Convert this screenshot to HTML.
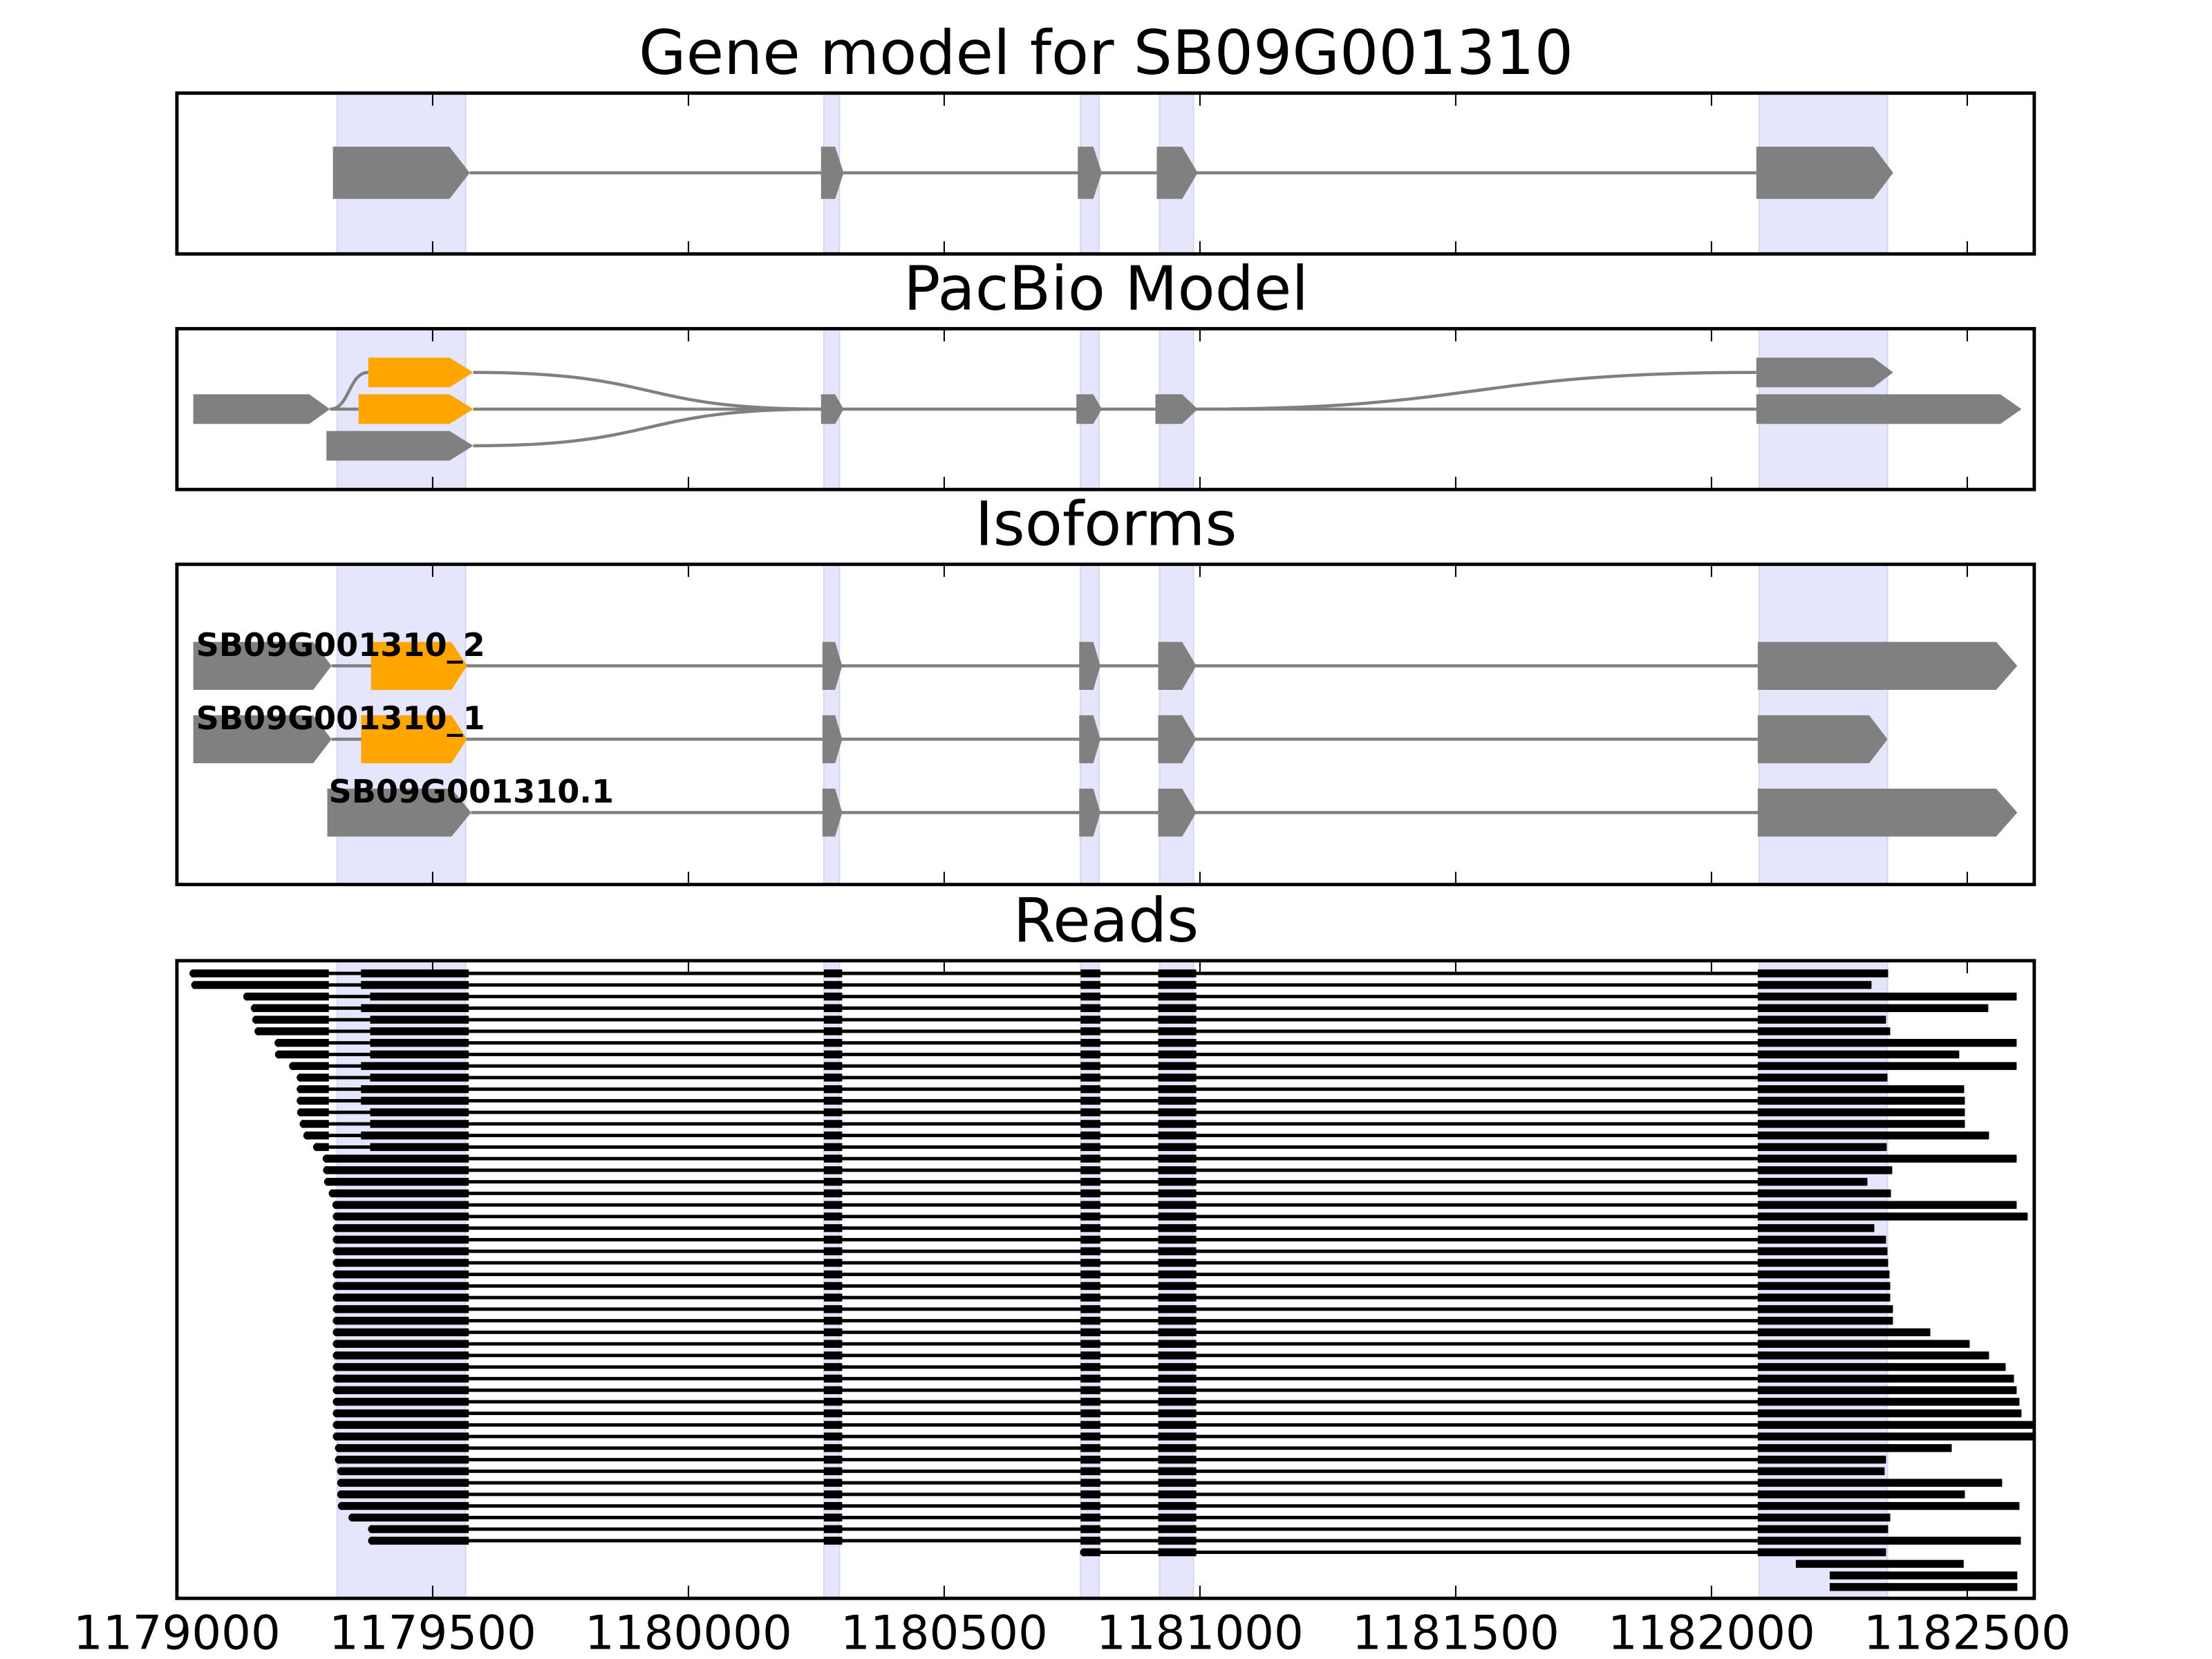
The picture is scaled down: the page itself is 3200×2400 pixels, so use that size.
<!DOCTYPE html>
<html><head><meta charset="utf-8"><style>html,body{margin:0;padding:0;background:#fff}svg{display:block}</style></head>
<body>
<svg id="s" xmlns="http://www.w3.org/2000/svg" width="3200" height="2400" viewBox="0 0 1568 1176" font-family="DejaVu Sans, Liberation Sans, sans-serif">
<defs><clipPath id="c4"><rect x="125.4" y="681" width="1316.6" height="452"/></clipPath></defs>
<rect width="1568" height="1176" fill="#fff"/>
<g id="bands"></g>
<g id="content"></g>
<g id="frames" fill="none" stroke="#000" stroke-width="2.4"></g>
<g id="ticks" stroke="#000" stroke-width="1"></g>
<g font-size="43.4" text-anchor="middle" fill="#000">
<text x="784" y="52.4">Gene model for SB09G001310</text>
<text x="784" y="219.4">PacBio Model</text>
<text x="784" y="386.4">Isoforms</text>
<text x="784" y="667.4">Reads</text>
</g>
<g id="tl" font-size="33" text-anchor="middle" fill="#000"></g>
<g font-size="22.6" font-weight="bold" fill="#000">
<text x="139" y="465">SB09G001310_2</text>
<text x="139" y="517">SB09G001310_1</text>
<text x="233" y="569">SB09G001310.1</text>
</g>
</svg>
<script>
const NS="http://www.w3.org/2000/svg";
function el(p,t,a){const e=document.createElementNS(NS,t);for(const k in a)e.setAttribute(k,a[k]);p.appendChild(e);return e;}
const bands=document.getElementById('bands'),C=document.getElementById('content'),F=document.getElementById('frames'),T=document.getElementById('ticks'),TL=document.getElementById('tl');
const panels=[[66,180],[233,347],[400,627],[681,1133]];
const L0=125.4,R0=1442;
const B=[[239,330],[584,595],[766,779],[822,846],[1247,1338]];
panels.forEach(([t,b])=>{
  B.forEach(([x0,x1])=>el(bands,'rect',{x:x0,y:t,width:x1-x0,height:b-t,fill:'#e5e5fc',stroke:'#d6d6ef','stroke-width':1}));
  el(F,'rect',{x:L0,y:t,width:R0-L0,height:b-t});
  for(let k=0;k<8;k++){const x=L0+k*181.3;el(T,'line',{x1:x,y1:t,x2:x,y2:t+9});el(T,'line',{x1:x,y1:b,x2:x,y2:b-9});}
});
for(let k=0;k<8;k++){const t=el(TL,'text',{x:L0+k*181.3,y:1169});t.textContent=String(1179000+k*500);}
function arrow(x0,x1,xt,yc,h,col){el(C,'polygon',{points:`${x0},${yc-h/2} ${x1},${yc-h/2} ${xt},${yc} ${x1},${yc+h/2} ${x0},${yc+h/2}`,fill:col});}
function line(x0,x1,y){el(C,'line',{x1:x0,y1:y,x2:x1,y2:y,stroke:'#808080','stroke-width':2.2});}
function path(d){el(C,'path',{d:d,fill:'none',stroke:'#808080','stroke-width':2.2});}
const G='#808080',O='#ffa500';
line(333,1245,122.5);
arrow(236,318.6,333,122.5,37,G);arrow(582,592,598,122.5,37,G);arrow(764,775,781,122.5,37,G);arrow(820,838,849,122.5,37,G);arrow(1245,1328,1342,122.5,37,G);
line(233.9,254.2,290);line(335.5,1245,290);
path('M233.9,290 C248,290 247,264 261.1,264');
path('M335.5,264 C470,264 450,290 582,290');
path('M335.5,316 C470,316 450,290 582,290');
path('M849,290 C1050,290 1040,264 1245,264');
arrow(137,219.2,233.9,290,21,G);arrow(261.1,318.6,335.5,264,21,O);arrow(254.2,318.6,335.5,290,21,O);arrow(231.4,318.6,335.5,316,21,G);
[[582,592,598],[763,775,781],[819,838,849]].forEach(a=>arrow(a[0],a[1],a[2],290,21,G));
arrow(1245,1328,1342,264,21,G);arrow(1245,1418,1433,290,21,G);
const mid=[[583,592,597],[765,775,780],[821,838,848]];
[[472,137,263,1415,1430],[524,137,256,1325,1338]].forEach(([y,g,o,r1,rt])=>{
  line(235,1246,y);arrow(g,222,235,y,34,G);arrow(o,320,331,y,34,O);mid.forEach(a=>arrow(a[0],a[1],a[2],y,34,G));arrow(1246,r1,rt,y,34,G);
});
line(334,1246,576);arrow(232,320,334,576,34,G);mid.forEach(a=>arrow(a[0],a[1],a[2],576,34,G));arrow(1246,1415,1430,576,34,G);
const RG=el(document.getElementById('s'),'g',{'clip-path':'url(#c4)'});
const Lst=[134.7,135.9,172.8,178.2,179.2,180.8,195.0,195.3,205.3,210.7,210.7,210.7,211.0,212.8,215.4,222.3,229.1,229.4,230.1,233.4,236.0];
for(let i=21;i<=40;i++)Lst.push(236.3);
Lst.push(237.8,237.8,239.4,239.4,239.4,239.9,247.4,261.3,261.3);
const S2=[817,817,857,817,857,857,857,857,817,857,817,817,857,857,817,857].map(z=>z==817?255.9:262.4);
const RE=[1338.4,1326.6,1429.5,1409.4,1336.9,1339.9,1429.5,1388.8,1429.5,1337.9,1392.3,1392.8,1392.8,1392.8,1409.9,1337.4,1429.5,1341.3,1323.7,1340.4,1429.5,1437.3,1328.6,1336.9,1337.9,1338.4,1339.4,1339.9,1339.9,1341.8,1341.8,1368.3,1396.2,1409.9,1421.7,1427.6,1429.5,1431.5,1432.9,1450,1450,1383.5,1336.9,1335.9,1419.2,1392.8,1431.5,1339.9,1338.4,1432.5,1336.9];
const H=5.6;
function thick(x0,x1,y,r){el(RG,'rect',{x:x0,y:y-H/2,width:x1-x0,height:H,fill:'#000'});if(r)el(RG,'circle',{cx:x0+1.2,cy:y,r:H/2,fill:'#000'});}
function thin(x0,x1,y){el(RG,'rect',{x:x0,y:y-1.2,width:x1-x0,height:2.4,fill:'#000'});}
for(let i=0;i<54;i++){
  const y=690+i*8.207;
  if(i<=49){
    const s=Lst[i];thin(s,RE[i],y);
    if(i<16){thick(s+1.2,233.1,y,true);thick(S2[i],332.3,y,false);}
    else thick(s+1.2,332.3,y,true);
    thick(584,597,y);thick(766,780,y);thick(821,848,y);thick(1246,RE[i],y);
  } else if(i==50){
    thin(766,RE[i],y);thick(767.2,780,y,true);thick(821,848,y);thick(1246,RE[i],y);
  } else if(i==51){thick(1273,1392,y);}
  else {thick(1297,1430,y);}
}
</script>
</body></html>
